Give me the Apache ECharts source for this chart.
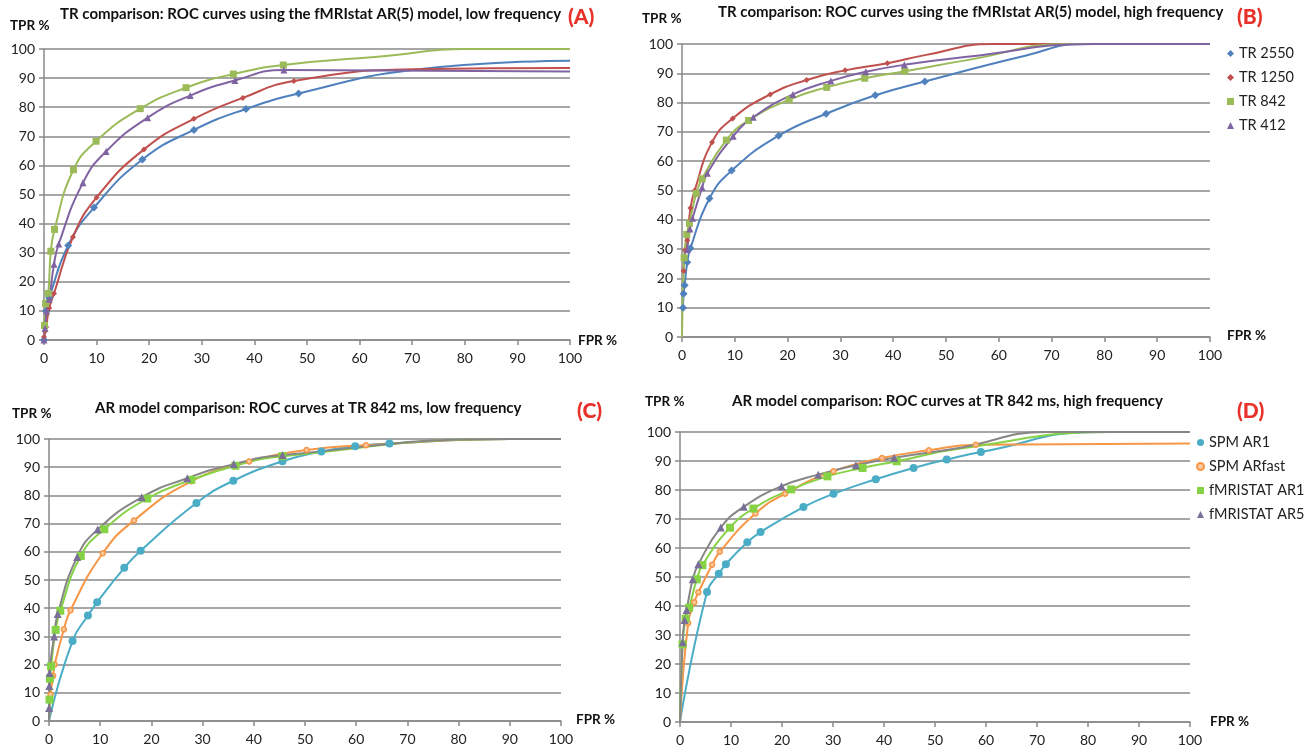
<!DOCTYPE html>
<html><head><meta charset="utf-8">
<script src="https://cdn.jsdelivr.net/npm/echarts@6/dist/echarts.min.js"></script>
<style>html,body{margin:0;padding:0;background:#fff}#c{width:1307px;height:750px}</style>
</head><body><div id="c"></div>
<script>
// ---------- Panel titles / labels ----------
const titlesText = [
  'TR comparison: ROC curves using the fMRIstat AR(5) model, low frequency',
  'TR comparison: ROC curves using the fMRIstat AR(5) model, high frequency',
  'AR model comparison: ROC curves at TR 842 ms, low frequency',
  'AR model comparison: ROC curves at TR 842 ms, high frequency'
];
const panelTags = ['(A)', '(B)', '(C)', '(D)'];
const namesTR = ['TR 2550', 'TR 1250', 'TR 842', 'TR 412'];
const namesAR = ['SPM AR1', 'SPM ARfast', 'fMRISTAT AR1', 'fMRISTAT AR5'];
const axisTicks = [0, 10, 20, 30, 40, 50, 60, 70, 80, 90, 100];

// ---------- Panel A (low frequency, TR comparison): [FPR, TPR] ----------
const A_TR2550 = [[0,0],[0.4,10],[1,14.5],[4.6,32.5],[9.5,45.5],[18.7,62],[28.5,72.2],[38.4,79.4],[48.4,84.7]];
const A_TR2550_tail = [[70,92.8],[100,96]];
const A_TR1250 = [[0,1],[0.2,3],[0.4,4.5],[1,11],[1.9,16],[5.5,35.4],[10,49],[19,65.5],[28.5,76],[37.8,83.2],[47.5,89]];
const A_TR1250_tail = [[70,93],[100,93.5]];
const A_TR842_lead = [[0,0]];
const A_TR842 = [[0.1,5],[0.3,12.5],[0.8,16],[1.3,30.5],[2,38],[5.6,58.5],[9.9,68.3],[18.3,79.5],[27,86.7],[36,91.4],[45.5,94.5]];
const A_TR842_tail = [[65,97.6],[80,100],[100,100]];
const A_TR412 = [[0,0],[0.2,4],[0.5,10],[1,14],[1.9,26],[2.8,33],[7.4,54],[11.8,64.8],[19.7,76.4],[27.8,84],[36.3,89.2],[45.6,92.8]];
const A_TR412_tail = [[100,92.3]];

// ---------- Panel B (high frequency, TR comparison) ----------
const B_TR2550 = [[0.2,10],[0.3,14.8],[0.5,17.7],[1,25.5],[1.6,30.3],[5.2,47.3],[9.4,56.8],[18.3,68.7],[27.3,76.2],[36.6,82.5],[46,87.2]];
const B_TR2550_tail = [[65,96],[76,100],[100,100]];
const B_TR1250 = [[0.3,22.5],[0.6,29.5],[1,33],[1.6,44],[2.4,50],[5.7,66.5],[9.6,74.6],[16.7,82.8],[23.6,87.7],[30.9,91],[38.9,93.4]];
const B_TR1250_tail = [[46,96.2],[59,100],[100,100]];
const B_TR842_lead = [[0,0]];
const B_TR842 = [[0.4,27],[0.9,35],[1.4,38.8],[2.7,49],[3.8,54],[8.4,67.2],[12.6,73.9],[20.3,81],[27.4,85.2],[34.6,88.3],[42.2,90.7]];
const B_TR842_tail = [[54,94.5],[73.5,100],[100,100]];
const B_TR412 = [[1,29.8],[1.5,36.9],[2,40.5],[3.8,51],[4.8,55.9],[9.7,68.5],[13.5,75],[21,82.8],[28.2,87.4],[34.8,90.5],[42.1,92.9]];
const B_TR412_tail = [[54.5,95.7],[78,100],[100,100]];

// ---------- Panel C (low frequency, AR model comparison) ----------
const C_SPMAR1_lead = [[0,0]];
const C_SPMAR1 = [[4.6,28.4],[7.6,37.4],[9.4,42.1],[14.7,54.3],[17.9,60.4],[28.8,77.3],[36,85.2],[45.6,92.1],[53.2,95.6],[59.8,97.4],[66.5,98.4]];
const C_SPMAR1_tail = [[90,100],[100,100]];
const C_SPMARfast_lead = [[0,0]];
const C_SPMARfast = [[0.3,9.4],[0.8,16],[1.1,20],[2.9,32.5],[4.2,39.3],[10.5,59.5],[16.6,71.1],[27.8,85],[39.1,92],[50.3,96.1],[61.9,97.8]];
const C_SPMARfast_tail = [[90,100],[100,100]];
const C_FAR1_lead = [[0,0]];
const C_FAR1 = [[0.1,7.6],[0.2,15],[0.4,19.4],[1.3,32.3],[2.2,39.1],[6.2,58.5],[10.8,68],[19.2,78.9],[27.8,85.5],[36.4,90.5],[45.6,93.9]];
const C_FAR1_tail = [[90,100],[100,100]];
const C_FAR5_lead = [[0,0]];
const C_FAR5 = [[0.02,4.6],[0.06,12.4],[0.12,17],[1,30],[1.7,37.9],[5.5,58.2],[9.5,67.9],[18.1,79.3],[27,86.1],[36.1,91.1],[45.6,94.3]];
const C_FAR5_tail = [[90,100],[100,100]];

// ---------- Panel D (high frequency, AR model comparison) ----------
const D_SPMAR1_lead = [[0,0]];
const D_SPMAR1 = [[5.3,44.8],[7.6,51.1],[9,54.4],[13.2,62],[15.8,65.5],[24.2,74.1],[30.1,78.7],[38.4,83.7],[45.8,87.6],[52.3,90.5],[59,93.1]];
const D_SPMAR1_tail = [[82,100],[100,100]];
const D_SPMARfast_lead = [[0,0]];
const D_SPMARfast = [[1.6,34.1],[2.8,41.3],[3.6,44.7],[6.3,54.2],[7.8,58.7],[14.8,71.9],[20.6,78.7],[30.1,86.5],[39.6,91],[48.8,93.7],[58,95.6]];
const D_SPMARfast_tail = [[100,96]];
const D_FAR1_lead = [[0,0]];
const D_FAR1 = [[0.5,26.8],[1.1,35.6],[1.8,39.4],[3.3,49.2],[4.4,54.1],[9.8,67],[14.4,73.6],[21.8,80.2],[28.9,84.7],[35.8,87.6],[42.5,89.9]];
const D_FAR1_tail = [[55,94.3],[85,100],[100,100]];
const D_FAR5_lead = [[0,0]];
const D_FAR5 = [[0.5,27.5],[0.9,35.2],[1.3,38.6],[2.5,49.2],[3.6,54.4],[8,67.1],[12.5,74.2],[19.9,81.3],[27.1,85.3],[34.5,88.5],[42,91.1]];
const D_FAR5_tail = [[55,94.6],[72,100],[100,100]];

// ---------- styling ----------
const FONT = 'Lato, "Open Sans", sans-serif';
const GRID_COL = '#898989';
const grids = [
  {left: 44, top: 49, width: 526, height: 291},
  {left: 682, top: 44, width: 528, height: 293},
  {left: 49, top: 439, width: 512, height: 282},
  {left: 680, top: 432, width: 510, height: 290}
];
const styleTR = [
  {color: '#4f81bd', symbol: 'diamond', size: 8},
  {color: '#c0504d', symbol: 'diamond', size: 6},
  {color: '#9bbb59', symbol: 'rect', size: 7},
  {color: '#8064a2', symbol: 'triangle', size: 7}
];
const styleAR = [
  {color: '#4bacc6', symbol: 'circle', size: 8},
  {color: '#f79646', symbol: 'circle', size: 5, fill: '#f9c9a0'},
  {color: '#86d245', symbol: 'rect', size: 8},
  {color: '#868686', symbol: 'triangle', size: 8, mark: '#7a6f96'}
];

function buildData(lead, pts, tail) {
  const hid = p => ({value: p, symbol: 'none'});
  return (lead || []).map(hid).concat(pts.map(p => ({value: p})), (tail || []).map(hid));
}
function mkSeries(name, gi, st, lead, pts, tail) {
  return {
    name: name, type: 'line', xAxisIndex: gi, yAxisIndex: gi,
    smooth: 0.5,
    symbol: st.symbol, symbolSize: st.size, showAllSymbol: true,
    lineStyle: {color: st.color, width: 2},
    itemStyle: {color: st.fill || st.mark || st.color, borderColor: st.color, borderWidth: st.fill ? 1.5 : 0},
    data: buildData(lead, pts, tail), animation: false, z: 3
  };
}

const series = [
  mkSeries(namesTR[0], 0, styleTR[0], null, A_TR2550, A_TR2550_tail),
  mkSeries(namesTR[1], 0, styleTR[1], null, A_TR1250, A_TR1250_tail),
  mkSeries(namesTR[2], 0, styleTR[2], A_TR842_lead, A_TR842, A_TR842_tail),
  mkSeries(namesTR[3], 0, styleTR[3], null, A_TR412, A_TR412_tail),
  mkSeries(namesTR[0], 1, styleTR[0], null, B_TR2550, B_TR2550_tail),
  mkSeries(namesTR[1], 1, styleTR[1], null, B_TR1250, B_TR1250_tail),
  mkSeries(namesTR[2], 1, styleTR[2], B_TR842_lead, B_TR842, B_TR842_tail),
  mkSeries(namesTR[3], 1, styleTR[3], null, B_TR412, B_TR412_tail),
  mkSeries(namesAR[0], 2, styleAR[0], C_SPMAR1_lead, C_SPMAR1, C_SPMAR1_tail),
  mkSeries(namesAR[1], 2, styleAR[1], C_SPMARfast_lead, C_SPMARfast, C_SPMARfast_tail),
  mkSeries(namesAR[2], 2, styleAR[2], C_FAR1_lead, C_FAR1, C_FAR1_tail),
  mkSeries(namesAR[3], 2, styleAR[3], C_FAR5_lead, C_FAR5, C_FAR5_tail),
  mkSeries(namesAR[0], 3, styleAR[0], D_SPMAR1_lead, D_SPMAR1, D_SPMAR1_tail),
  mkSeries(namesAR[1], 3, styleAR[1], D_SPMARfast_lead, D_SPMARfast, D_SPMARfast_tail),
  mkSeries(namesAR[2], 3, styleAR[2], D_FAR1_lead, D_FAR1, D_FAR1_tail),
  mkSeries(namesAR[3], 3, styleAR[3], D_FAR5_lead, D_FAR5, D_FAR5_tail)
];

const xAxes = grids.map((g, i) => ({
  type: 'value', gridIndex: i, min: axisTicks[0], max: axisTicks[axisTicks.length - 1], interval: 10,
  axisLine: {show: true, onZero: false, lineStyle: {color: GRID_COL, width: 1.5}},
  axisTick: {show: true, length: 5, lineStyle: {color: GRID_COL, width: 1.5}},
  axisLabel: {show: true, color: '#222', fontSize: 14, fontFamily: FONT, margin: 11},
  splitLine: {show: false}
}));
const yAxes = grids.map((g, i) => ({
  type: 'value', gridIndex: i, min: 0, max: 100, interval: 10,
  axisLine: {show: true, lineStyle: {color: GRID_COL, width: 1.5}},
  axisTick: {show: true, length: 5, lineStyle: {color: GRID_COL, width: 1.5}},
  axisLabel: {color: '#222', fontSize: 14, fontFamily: FONT, margin: 9},
  splitLine: {show: true, lineStyle: {color: GRID_COL, width: 1.6}}
}));

const titlePos = [
  {x: 60, y: 7}, {x: 718, y: 5}, {x: 95, y: 401}, {x: 732, y: 394}
];
const tagPos = [{x: 568, y: 7}, {x: 1237, y: 7}, {x: 577, y: 401}, {x: 1237, y: 401}];
const tprPos = [{x: 10, y: 19}, {x: 642, y: 12}, {x: 12, y: 407}, {x: 645, y: 395}];
const fprPos = [{x: 578, y: 334}, {x: 1227, y: 329}, {x: 576, y: 713}, {x: 1210, y: 715}];

const titles = [];
for (let i = 0; i < 4; i++) {
  titles.push({text: titlesText[i], left: titlePos[i].x, top: titlePos[i].y, padding: 0,
    textStyle: {fontFamily: FONT, fontWeight: 'bold', fontSize: 15, color: '#111'}});
  titles.push({text: panelTags[i], left: tagPos[i].x, top: tagPos[i].y, padding: 0,
    textStyle: {fontFamily: FONT, fontWeight: 900, fontSize: 21, color: '#e8312a'}});
  titles.push({text: 'TPR %', left: tprPos[i].x, top: tprPos[i].y, padding: 0,
    textStyle: {fontFamily: FONT, fontWeight: 'bold', fontSize: 13.5, color: '#111'}});
  titles.push({text: 'FPR %', left: fprPos[i].x, top: fprPos[i].y, padding: 0,
    textStyle: {fontFamily: FONT, fontWeight: 'bold', fontSize: 13.5, color: '#111'}});
}

const legends = [
  {data: namesTR.map((n, k) => ({name: n, icon: styleTR[k].symbol})), left: 1227, top: 46},
  {data: namesAR.map((n, k) => ({name: n, icon: styleAR[k].symbol})), left: 1196, top: 435}
].map(l => Object.assign({
  orient: 'vertical', itemWidth: 7, itemHeight: 7, itemGap: 9, padding: 0,
  selectedMode: false,
  textStyle: {fontFamily: FONT, fontSize: 14.5, color: '#222', padding: [0, 0, 0, 0]}
}, l));

const chart = echarts.init(document.getElementById('c'), null, {renderer: 'canvas'});
chart.setOption({
  backgroundColor: '#fff',
  animation: false,
  title: titles,
  legend: legends,
  grid: grids,
  xAxis: xAxes,
  yAxis: yAxes,
  series: series
});
</script></body></html>
